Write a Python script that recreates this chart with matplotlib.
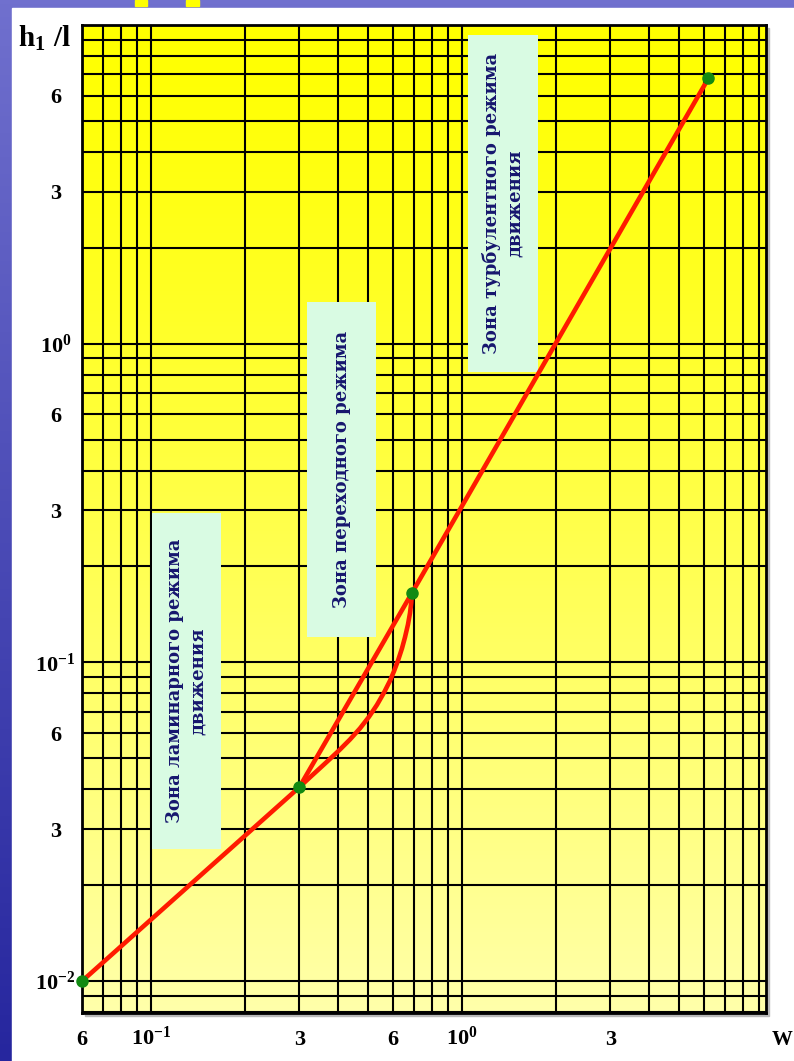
import numpy as np
import matplotlib.pyplot as plt
from matplotlib.patches import Rectangle
from matplotlib.ticker import LogLocator, NullFormatter

plt.rcParams['font.family'] = ['Liberation Serif', 'DejaVu Serif']
plt.rcParams['mathtext.fontset'] = 'custom'
plt.rcParams['mathtext.rm'] = 'Liberation Serif:bold'
plt.rcParams['mathtext.it'] = 'Liberation Serif:bold'
plt.rcParams['mathtext.bf'] = 'Liberation Serif:bold'
plt.rcParams['mathtext.default'] = 'rm'

# hydraulic slope h1/l versus velocity w, one piece per flow regime
w_lam = [0.06, 0.30]
h_lam = [0.0100, 0.0406]
w_upper = [0.30, 0.69]
h_upper = [0.0406, 0.165]
w_lower = [0.30, 0.3245, 0.3496, 0.3764, 0.4053, 0.4364, 0.470, 0.5023, 0.533,
           0.5614, 0.5869, 0.6045, 0.6227, 0.6413, 0.6558, 0.6705, 0.6806, 0.6870, 0.69]
h_lower = [0.0406, 0.0436, 0.0466, 0.0498, 0.0533, 0.0573, 0.0621, 0.0675, 0.0736,
           0.0804, 0.0876, 0.0938, 0.1013, 0.1106, 0.1199, 0.1315, 0.1428, 0.1541, 0.165]
w_turb = [0.69, 6.2]
h_turb = [0.165, 6.8]
w_dots = [0.06, 0.30, 0.69, 6.2]
h_dots = [0.0100, 0.0406, 0.165, 6.8]

x_ticks = [0.06, 0.1, 0.3, 0.6, 1, 3]
x_labels = ['6', '$10^{-1}$', '3', '6', '$10^{0}$', '3']
y_ticks = [0.01, 0.03, 0.06, 0.1, 0.3, 0.6, 1, 3, 6]
y_labels = ['$10^{-2}$', '3', '6', '$10^{-1}$', '3', '6', '$10^{0}$', '3', '6']

zones = ['Зона ламинарного режима\nдвижения',
         'Зона переходного режима',
         'Зона турбулентного режима\nдвижения']
# where each zone box sits, in axes fractions (x0, y0, w, h)
zone_boxes = [(0.102, 0.166, 0.101, 0.340),
              (0.329, 0.381, 0.101, 0.339),
              (0.564, 0.649, 0.102, 0.341)]

W, H = 794, 1061
fig = plt.figure(figsize=(W / 100, H / 100), dpi=100)

# slide background: blue gradient, white panel on top
bg = fig.add_axes([0, 0, 1, 1], zorder=-10)
t = np.linspace(0, 1, 256)[:, None, None]
top = np.array([112, 112, 206]) / 255
bot = np.array([38, 38, 158]) / 255
bg.imshow(top + (bot - top) * t, aspect='auto', extent=[0, 1, 0, 1])
bg.set_xlim(0, 1)
bg.set_ylim(0, 1)
bg.set_axis_off()
bg.add_patch(Rectangle((12 / W, 0), 1, (H - 8) / H, color='white'))
bg.add_patch(Rectangle((135 / W, (H - 6) / H), 12 / W, 6 / H, color='#ffff00'))
bg.add_patch(Rectangle((186 / W, (H - 6) / H), 13 / W, 6 / H, color='#ffff00'))

rect = [82 / W, (H - 1013) / H, 684 / W, 988 / H]
# soft shadow behind the chart frame
bg.add_patch(Rectangle((rect[0] + 3 / W, rect[1] - 3 / H), rect[2], rect[3],
                       color='#b8b8b8'))

# yellow fill fading towards the bottom
yax = fig.add_axes(rect, zorder=-5)
t = np.linspace(0, 1, 256) ** 1.2
fill = np.stack([np.ones_like(t), np.ones_like(t), t * 170 / 255], axis=-1)[:, None, :]
yax.imshow(fill, aspect='auto', extent=[0, 1, 0, 1])
yax.set_axis_off()

ax = fig.add_axes(rect)
ax.set_facecolor('none')
ax.set_xscale('log')
ax.set_yscale('log')
ax.set_xlim(0.06, 9.5)
ax.set_ylim(10 ** -2.1, 10)

ax.set_xticks(x_ticks)
ax.set_xticklabels(x_labels)
ax.set_yticks(y_ticks)
ax.set_yticklabels(y_labels)
for axis in (ax.xaxis, ax.yaxis):
    axis.set_minor_locator(LogLocator(base=10, subs=np.arange(1, 10), numticks=50))
    axis.set_minor_formatter(NullFormatter())
ax.tick_params(which='both', length=0)
ax.tick_params(axis='x', pad=23)
ax.tick_params(axis='y', pad=19)
for lab in ax.get_xticklabels():
    lab.set_fontsize(16)
    lab.set_fontweight('bold')
    lab.set_verticalalignment('baseline')
for lab in ax.get_yticklabels():
    lab.set_fontsize(16)
    lab.set_fontweight('bold')
    lab.set_horizontalalignment('center')

ax.set_axisbelow(True)
ax.grid(which='both', color='black', linewidth=1.5)
for s in ax.spines.values():
    s.set_linewidth(2)

for text, (x0, y0, bw, bh) in zip(zones, zone_boxes):
    ax.add_patch(Rectangle((x0, y0), bw, bh, transform=ax.transAxes,
                           facecolor='#d9fbe3', edgecolor='none', zorder=1))
    ax.text(x0 + bw / 2, y0 + bh / 2, text, transform=ax.transAxes,
            rotation=90, ha='center', va='center', multialignment='center',
            family='DejaVu Serif', fontweight='bold', fontsize=13,
            color='#16166e', linespacing=1.35, zorder=2)

red = '#ff1a00'
for w, h in [(w_lam, h_lam), (w_upper, h_upper), (w_lower, h_lower), (w_turb, h_turb)]:
    ax.plot(w, h, color=red, lw=3.3, solid_capstyle='round',
            solid_joinstyle='round', zorder=3)
ax.plot(w_dots, h_dots, 'o', color='#128a12', markersize=8, zorder=5, clip_on=False)

fig.text(45 / W, 1 - 38 / H, r'$h_1\ /l$', fontsize=21, ha='center', va='center')
fig.text(782 / W, 1 - 1045 / H, 'W', fontsize=15, fontweight='bold',
         ha='center', va='baseline')

fig.savefig('out.png', dpi=100)
